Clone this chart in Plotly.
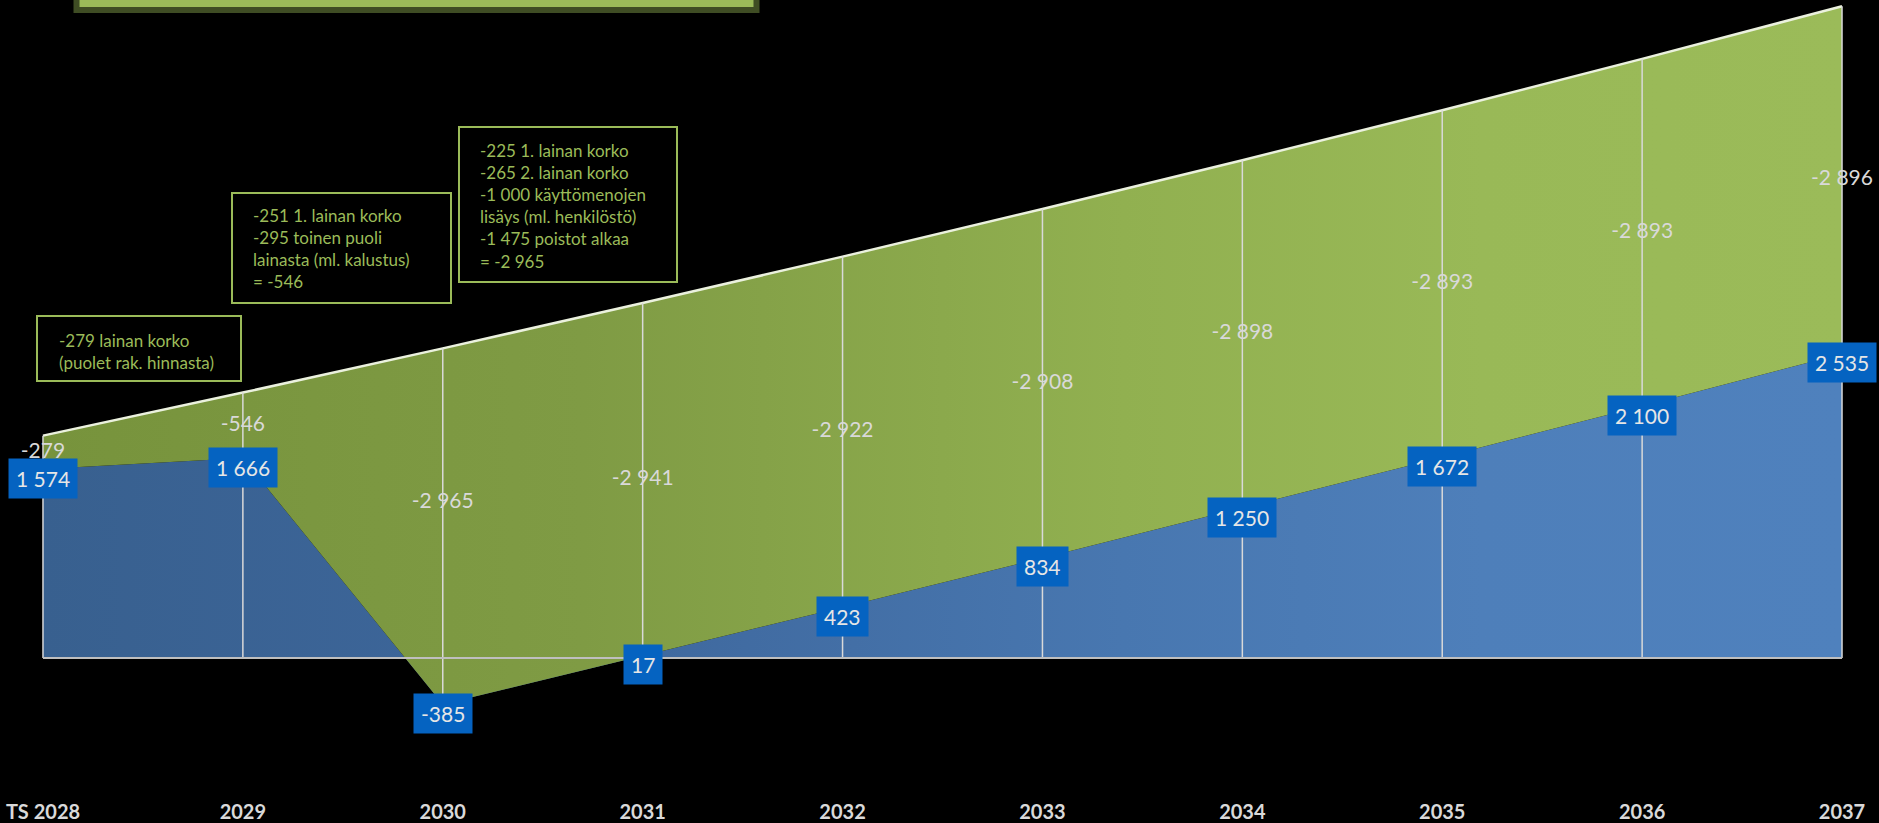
import plotly.graph_objects as go

# Years on the category axis
categories = ["TS 2028", "2029", "2030", "2031", "2032", "2033", "2034", "2035", "2036", "2037"]

# Net result after the new costs (blue series)
net_result = [1574, 1666, -385, 17, 423, 834, 1250, 1672, 2100, 2535]

# Cost impact of the project (green series, stacked on top of the net result)
cost_impact = [-279, -546, -2965, -2941, -2922, -2908, -2898, -2893, -2893, -2896]

# Explanatory notes for the first three years
note_2028 = ["-279 lainan korko", "(puolet rak. hinnasta)"]
note_2029 = ["-251 1. lainan korko", "-295 toinen puoli", "lainasta (ml. kalustus)", "= -546"]
note_2030 = ["-225 1. lainan korko", "-265 2. lainan korko", "-1 000 käyttömenojen",
             "lisäys (ml. henkilöstö)", "-1 475 poistot alkaa", "= -2 965"]


def fmt(v):
    return f"{v:,}".replace(",", " ")


idx = list(range(len(categories)))
stack_top = [n + abs(c) for n, c in zip(net_result, cost_impact)]
cost_label_y = [(max(n, 0) + t) / 2 for n, t in zip(net_result, stack_top)]

W, H = 1879, 823
BOTTOM = 25
PLOT_H = H - BOTTOM
FONT = "Lato"

fig = go.Figure()

# Blue area: net result
fig.add_trace(go.Scatter(
    x=idx, y=net_result, mode="lines", line=dict(width=0),
    fill="tozeroy",
    fillgradient=dict(type="horizontal", start=0, stop=9,
                      colorscale=[[0, "#38608F"], [0.3, "#3E679C"], [0.6, "#4877B0"],
                                  [0.8, "#4E7FBA"], [1, "#4F81BD"]]),
    hoverinfo="skip",
))

# Green area: cost impact stacked on top of the net result
fig.add_trace(go.Scatter(
    x=idx, y=stack_top, mode="lines", line=dict(width=2.5, color="#EBF1DE"),
    fill="tonexty",
    fillgradient=dict(type="horizontal", start=0, stop=9,
                      colorscale=[[0, "#77933C"], [0.3, "#7F9B44"], [0.6, "#91B050"],
                                  [0.8, "#99B957"], [1, "#9BBB59"]]),
    hoverinfo="skip",
))

# Drop lines from the stack top down to the axis / lowest point
dx, dy = [], []
for i, n, t in zip(idx, net_result, stack_top):
    dx += [i, i, None]
    dy += [min(n, 0), t, None]
fig.add_trace(go.Scatter(x=dx, y=dy, mode="lines",
                         line=dict(width=1.5, color="#D9D9D9"), hoverinfo="skip"))

# Category axis line at zero
fig.add_trace(go.Scatter(x=[idx[0], idx[-1]], y=[0, 0], mode="lines",
                         line=dict(width=2, color="#BFBFBF"), hoverinfo="skip"))

# Cost impact labels, centred in the green band
fig.add_trace(go.Scatter(
    x=idx, y=cost_label_y, mode="text", text=[fmt(v) for v in cost_impact],
    textfont=dict(family=FONT, size=21, color="#D9D9D9"), hoverinfo="skip",
))

annotations = []
# Net result labels in blue boxes
for i, n in zip(idx, net_result):
    annotations.append(dict(
        x=i, y=n, xref="x", yref="y", text=fmt(n), showarrow=False,
        yshift=-9, bgcolor="#0563C1", borderpad=7,
        font=dict(family=FONT, size=21, color="#E6E6E6"),
    ))


def px(x):
    return x / W


def py(y):
    return 1 - y / PLOT_H


shapes = []
# Heading panel at the top
shapes.append(dict(type="rect", xref="paper", yref="paper",
                   x0=px(76.5), x1=px(756.5), y0=py(10), y1=py(-30),
                   line=dict(color="#3F4D24", width=6), fillcolor="#9BBB59", layer="above"))

# Note boxes: (left, top, right, bottom, text left, first line centre, lines)
notes = [
    (37, 316, 241, 381, 57, 339, note_2028),
    (232, 193, 451, 303, 251, 214, note_2029),
    (459, 127, 677, 282, 478, 149, note_2030),
]
LINE_H = 22
for x0, y0, x1, y1, tx, ty, lines in notes:
    shapes.append(dict(type="rect", xref="paper", yref="paper",
                       x0=px(x0), x1=px(x1), y0=py(y1), y1=py(y0),
                       line=dict(color="#9BBB59", width=2), fillcolor="rgba(0,0,0,0)",
                       layer="above"))
    annotations.append(dict(
        x=px(tx), y=py(ty - LINE_H / 2), xref="paper", yref="paper",
        xanchor="left", yanchor="top", align="left", showarrow=False,
        text="<br>".join(lines),
        font=dict(family=FONT, size=17, color="#9BBB59"),
    ))

fig.update_layout(
    width=W, height=H,
    margin=dict(l=0, r=0, t=0, b=BOTTOM, pad=0),
    paper_bgcolor="black", plot_bgcolor="black",
    showlegend=False,
    xaxis=dict(range=[-0.215, 9.185], tickmode="array", tickvals=idx, ticktext=categories,
               showgrid=False, zeroline=False, showline=False, ticks="",
               tickfont=dict(family=FONT, size=20, color="#D9D9D9", weight="bold")),
    yaxis=dict(range=[-(PLOT_H - 658) / 0.12, 658 / 0.12], visible=False,
               showgrid=False, zeroline=False),
    shapes=shapes,
    annotations=annotations,
)

fig.write_html("out.html")
